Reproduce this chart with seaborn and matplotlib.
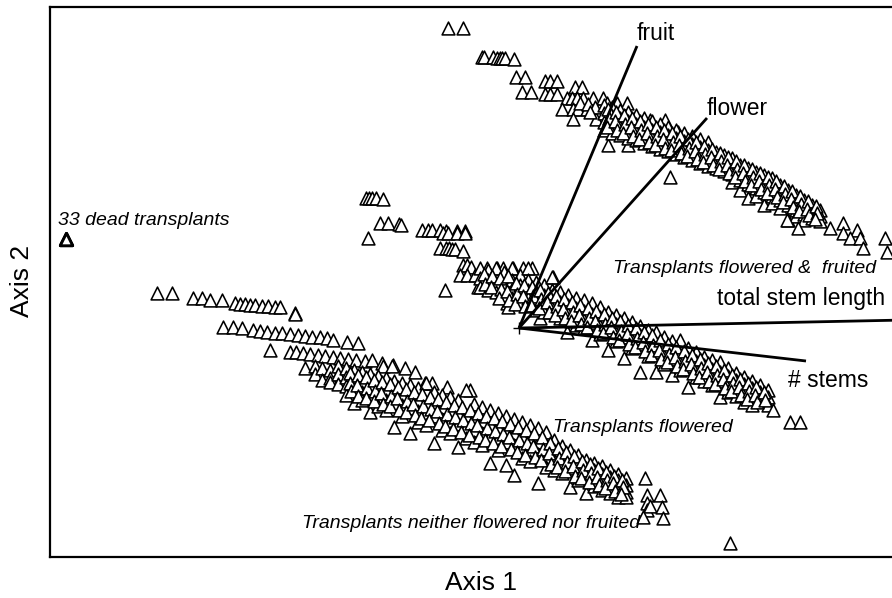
import matplotlib
matplotlib.use("Agg")
import matplotlib.pyplot as plt
import seaborn as sns
import pandas as pd

# ---- Ordination scores (axis units = screen-scaled scores) ----
dead_pts = [(66, 239), (66, 239), (66, 239)]

neither_pts = [
    (157, 293), (172, 293), (193, 298), (202, 298), (210, 300), (222, 300), (235, 303), (240, 304),
    (245, 304), (250, 305), (255, 305), (262, 306), (268, 306), (275, 307), (280, 307), (295, 313), (295, 314),
    (223, 327), (233, 327), (242, 328), (253, 330), (260, 331), (267, 332), (275, 333), (282, 333),
    (290, 334), (298, 335), (305, 336), (312, 337), (320, 337), (327, 338), (333, 340), (347, 342), (358, 343),
    (270, 350), (290, 352), (296, 352), (303, 353), (310, 354), (318, 355), (325, 356), (333, 357),
    (340, 358), (348, 359), (356, 360), (365, 361), (372, 360), (382, 363), (393, 365),
    (383, 366), (392, 366), (405, 368), (415, 372), (425, 383), (432, 383), (447, 387), (470, 390),
    (305, 368), (315, 366), (315, 374), (322, 368), (322, 380), (330, 370), (330, 378), (330, 382),
    (338, 366), (338, 374), (338, 384), (346, 368), (346, 377), (346, 386), (346, 395),
    (354, 370), (354, 380), (354, 389), (354, 403), (362, 372), (362, 382), (362, 392), (362, 400),
    (370, 374), (370, 385), (370, 395), (370, 412), (378, 376), (378, 387), (378, 398), (378, 406),
    (386, 378), (386, 390), (386, 400), (386, 410), (394, 381), (394, 392), (394, 403), (394, 427),
    (402, 383), (402, 395), (402, 405), (402, 416), (410, 385), (410, 397), (410, 408), (410, 433),
    (418, 388), (418, 400), (418, 411), (418, 422), (426, 383), (426, 402), (426, 413), (426, 425),
    (434, 392), (434, 405), (434, 416), (434, 443), (442, 395), (442, 407), (442, 419), (442, 430),
    (450, 397), (450, 410), (450, 422), (450, 433), (458, 400), (458, 413), (458, 424), (458, 447),
    (466, 390), (466, 415), (466, 427), (466, 438), (474, 404), (474, 418), (474, 430), (474, 442),
    (482, 407), (482, 421), (482, 433), (482, 445), (490, 410), (490, 424), (490, 436), (490, 463),
    (498, 413), (498, 427), (498, 439), (498, 450), (506, 416), (506, 430), (506, 442), (506, 465),
    (514, 419), (514, 433), (514, 445), (514, 475), (522, 422), (522, 436), (522, 448), (522, 458),
    (530, 425), (530, 439), (530, 451), (530, 461), (538, 428), (538, 442), (538, 454), (538, 483),
    (546, 432), (546, 445), (546, 457), (546, 467), (554, 440), (554, 450), (554, 460), (554, 470),
    (562, 446), (562, 455), (562, 463), (562, 473), (570, 450), (570, 460), (570, 468), (570, 487),
    (578, 455), (578, 464), (578, 472), (578, 480), (586, 460), (586, 468), (586, 476), (586, 493),
    (594, 463), (594, 470), (594, 478), (594, 486), (602, 466), (602, 474), (602, 482), (602, 490),
    (610, 470), (610, 477), (610, 485), (610, 493), (618, 474), (618, 480), (618, 488), (618, 497),
    (626, 478), (626, 485), (626, 492), (626, 497),
    (645, 478), (647, 495), (660, 495), (647, 503), (647, 510), (650, 506), (662, 507), (663, 518),
    (643, 517), (730, 543),
    # second, offset layer of the dense core
    (350, 373), (350, 383), (351, 391), (358, 375), (357, 385), (358, 396), (366, 377), (367, 388),
    (366, 398), (374, 380), (375, 391), (374, 401), (382, 382), (381, 393), (383, 404), (390, 384),
    (391, 396), (390, 406), (398, 387), (397, 398), (399, 410), (406, 389), (407, 401), (406, 412),
    (414, 392), (413, 404), (415, 415), (422, 394), (423, 406), (421, 418), (430, 397), (431, 409),
    (429, 420), (438, 399), (437, 411), (439, 423), (446, 402), (447, 414), (445, 426), (454, 405),
    (455, 417), (453, 429), (462, 407), (463, 420), (461, 432), (470, 410), (471, 423), (469, 435),
    (478, 413), (477, 425), (479, 437), (486, 416), (487, 428), (485, 440), (494, 418), (495, 431),
    (493, 443), (502, 421), (503, 434), (501, 446), (510, 424), (509, 437), (511, 449), (518, 427),
    (519, 440), (517, 452), (526, 430), (527, 443), (525, 455), (534, 433), (533, 446), (535, 457),
    (542, 437), (543, 449), (541, 460), (550, 443), (549, 453), (551, 464), (558, 448), (559, 458),
    (557, 467), (566, 452), (567, 462), (565, 471), (574, 456), (573, 466), (575, 476), (582, 461),
    (583, 470), (581, 478), (590, 464), (591, 473), (589, 482), (598, 468), (597, 477), (599, 485),
    (606, 472), (607, 480), (605, 488), (614, 476), (613, 483), (615, 491), (622, 480), (623, 487),
    (621, 494),
]

flowered_pts = [
    (366, 198), (369, 198), (372, 198), (376, 198), (383, 199), (380, 223), (388, 223), (399, 224),
    (401, 225), (368, 238), (422, 230), (428, 230), (432, 230), (440, 230), (446, 231), (457, 231),
    (465, 231), (443, 233), (448, 233), (457, 233), (465, 233), (440, 248), (446, 248), (449, 248),
    (452, 249), (455, 249), (463, 251), (463, 265), (467, 265), (471, 267), (460, 275), (467, 275),
    (475, 275), (445, 290), (478, 287), (487, 268), (497, 268), (503, 268), (513, 268), (523, 268),
    (532, 268), (553, 277), (507, 303), (508, 307), (540, 318), (567, 332),
    (480, 268), (480, 278), (480, 287), (488, 270), (488, 280), (488, 290), (496, 268), (496, 283),
    (496, 292), (504, 272), (504, 285), (504, 295), (512, 268), (512, 280), (512, 289), (512, 298),
    (520, 275), (520, 285), (520, 293), (520, 302), (528, 268), (528, 280), (528, 290), (528, 298),
    (536, 282), (536, 292), (536, 300), (536, 310), (544, 285), (544, 295), (544, 304), (544, 312),
    (552, 277), (552, 290), (552, 300), (552, 308), (560, 292), (560, 302), (560, 311), (560, 318),
    (568, 295), (568, 305), (568, 314), (576, 298), (576, 308), (576, 317), (576, 325),
    (584, 300), (584, 311), (584, 320), (584, 328), (592, 303), (592, 314), (592, 323), (592, 340),
    (600, 307), (600, 317), (600, 326), (600, 334), (608, 312), (608, 321), (608, 330), (608, 350),
    (616, 315), (616, 324), (616, 333), (616, 341), (624, 318), (624, 328), (624, 337), (624, 358),
    (632, 322), (632, 331), (632, 340), (632, 348), (640, 326), (640, 335), (640, 344), (640, 372),
    (648, 330), (648, 339), (648, 348), (648, 356), (656, 332), (656, 343), (656, 352), (656, 372),
    (664, 337), (664, 347), (664, 356), (664, 364), (672, 341), (672, 350), (672, 359), (672, 375),
    (680, 340), (680, 354), (680, 363), (680, 370), (688, 348), (688, 358), (688, 366), (688, 387),
    (696, 352), (696, 361), (696, 370), (696, 377), (704, 357), (704, 365), (704, 374), (704, 381),
    (712, 360), (712, 369), (712, 378), (712, 385), (720, 362), (720, 372), (720, 381), (720, 397),
    (728, 368), (728, 376), (728, 385), (728, 392), (736, 373), (736, 380), (736, 388), (736, 396),
    (744, 377), (744, 384), (744, 392), (744, 402), (752, 381), (752, 388), (752, 395), (752, 405),
    (760, 385), (760, 392), (760, 399), (768, 390), (768, 397), (768, 405),
    (773, 410), (790, 422), (800, 422),
    # offset layer
    (484, 274), (485, 284), (492, 276), (491, 287), (500, 278), (501, 289), (499, 298), (508, 276),
    (507, 291), (509, 300), (516, 283), (517, 294), (515, 304), (524, 285), (523, 296), (525, 306),
    (532, 287), (533, 296), (531, 305), (540, 290), (541, 299), (539, 308), (548, 293), (547, 302),
    (549, 312), (556, 296), (557, 306), (555, 315), (564, 299), (563, 309), (565, 318), (572, 302),
    (573, 312), (571, 321), (580, 305), (579, 315), (581, 324), (588, 308), (589, 318), (587, 327),
    (596, 311), (595, 321), (597, 330), (604, 314), (605, 324), (603, 333), (612, 318), (611, 327),
    (613, 337), (620, 321), (621, 331), (619, 340), (628, 325), (627, 334), (629, 344), (636, 328),
    (637, 338), (635, 347), (644, 332), (643, 342), (645, 351), (652, 335), (653, 345), (651, 355),
    (660, 340), (659, 350), (661, 359), (668, 344), (669, 354), (667, 362), (676, 347), (675, 357),
    (677, 366), (684, 351), (685, 361), (683, 369), (692, 355), (691, 364), (693, 373), (700, 359),
    (701, 368), (699, 377), (708, 363), (707, 372), (709, 381), (716, 366), (717, 375), (715, 384),
    (724, 370), (723, 379), (725, 388), (732, 375), (733, 383), (731, 391), (740, 379), (739, 387),
    (741, 395), (748, 383), (749, 391), (747, 399), (756, 387), (755, 395), (757, 402), (764, 392),
    (765, 400),
]

fruited_pts = [
    (448, 28), (463, 28), (482, 57), (484, 57), (493, 57), (497, 58), (500, 58), (502, 58), (505, 58),
    (514, 59), (516, 77), (525, 77), (522, 92), (531, 92), (545, 81), (550, 81), (557, 81), (575, 87),
    (582, 87), (545, 94), (550, 94), (557, 94), (567, 98), (572, 98), (577, 98), (583, 98), (593, 98),
    (603, 98), (562, 109), (573, 109), (578, 109), (587, 109), (573, 119), (596, 119), (607, 103),
    (617, 103), (627, 103), (650, 120), (665, 120), (678, 132), (670, 177), (608, 145), (628, 145),
    (580, 103), (588, 104), (595, 107), (590, 112),
    (604, 105), (604, 113), (604, 122), (604, 130), (612, 107), (612, 116), (612, 124), (612, 133),
    (620, 110), (620, 118), (620, 127), (620, 135), (628, 112), (628, 121), (628, 130), (628, 138),
    (636, 115), (636, 124), (636, 132), (636, 140), (644, 118), (644, 127), (644, 135), (644, 143),
    (652, 121), (652, 130), (652, 138), (652, 146), (660, 124), (660, 132), (660, 141), (660, 149),
    (668, 127), (668, 135), (668, 143), (668, 151), (676, 130), (676, 138), (676, 146), (676, 154),
    (684, 133), (684, 141), (684, 149), (684, 157), (692, 136), (692, 144), (692, 152), (692, 160),
    (700, 139), (700, 147), (700, 155), (700, 163), (708, 142), (708, 150), (708, 158), (708, 166),
    (716, 152), (716, 160), (716, 168), (724, 155), (724, 163), (724, 171),
    (732, 158), (732, 166), (732, 174), (732, 182), (740, 165), (740, 172), (740, 180), (740, 190),
    (748, 168), (748, 176), (748, 184), (748, 198), (756, 172), (756, 180), (756, 188), (756, 196),
    (764, 175), (764, 184), (764, 192), (764, 205), (772, 178), (772, 188), (772, 196), (772, 203),
    (780, 185), (780, 193), (780, 200), (780, 208), (788, 190), (788, 198), (788, 205), (788, 220),
    (796, 195), (796, 202), (796, 210), (796, 216), (804, 200), (804, 207), (804, 214), (804, 220),
    (812, 205), (812, 212), (812, 218), (820, 210), (820, 216), (820, 221),
    (830, 228), (843, 223), (843, 233), (857, 230), (850, 238), (860, 238), (863, 248), (885, 238),
    (887, 252), (798, 228), (787, 220),
    # offset layer
    (608, 109), (609, 118), (607, 127), (616, 112), (615, 121), (617, 130), (624, 115), (625, 124),
    (623, 133), (632, 118), (631, 127), (633, 136), (640, 121), (641, 130), (639, 139), (648, 124),
    (647, 133), (649, 142), (656, 127), (657, 136), (655, 145), (664, 130), (663, 139), (665, 148),
    (672, 133), (673, 142), (671, 150), (680, 136), (679, 145), (681, 153), (688, 139), (689, 148),
    (687, 156), (696, 142), (695, 151), (697, 159), (704, 146), (705, 154), (703, 162), (712, 149),
    (711, 157), (713, 165), (720, 153), (721, 161), (719, 169), (728, 157), (727, 165), (729, 173),
    (736, 161), (737, 169), (735, 177), (744, 165), (743, 173), (745, 181), (752, 169), (753, 177),
    (751, 185), (760, 173), (759, 181), (761, 189), (768, 177), (769, 185), (767, 193), (776, 181),
    (775, 189), (777, 197), (784, 186), (785, 194), (783, 202), (792, 191), (791, 199), (793, 207),
    (800, 196), (801, 204), (799, 211), (808, 201), (807, 209), (809, 215), (816, 206), (817, 213),
    (815, 219),
]

# biplot vectors (origin and tips) and labels
vector_origin = (519, 328)
vector_names = ["fruit", "flower", "total stem length", "# stems"]
vector_tips = [(637, 46), (707, 118), (905, 320), (806, 361)]

group_notes = ["33 dead transplants", "Transplants flowered &  fruited",
               "Transplants flowered", "Transplants neither flowered nor fruited"]

# ---- build dataframe ----
rows = []
for name, pts in [("dead", dead_pts), ("neither", neither_pts),
                  ("flowered", flowered_pts), ("fruited", fruited_pts)]:
    for (a1, a2) in pts:
        rows.append({"Axis 1": a1, "Axis 2": a2, "group": name})
df = pd.DataFrame(rows)

sns.set_style("white")
plt.rcParams["font.family"] = ["Liberation Sans", "DejaVu Sans"]
plt.rcParams["text.color"] = "black"

W, H = 892, 598
fig = plt.figure(figsize=(W / 100, H / 100), dpi=100)
left, right, top, bottom = 50, 905, 7, 557
ax = fig.add_axes([left / W, 1 - bottom / H, (right - left) / W, (bottom - top) / H])

sns.scatterplot(data=df[df.group != "dead"], x="Axis 1", y="Axis 2", marker="^",
                s=85, facecolor="white", edgecolor="black", linewidth=1.15, ax=ax, legend=False)
sns.scatterplot(data=df[df.group == "dead"], x="Axis 1", y="Axis 2", marker="^",
                s=80, facecolor="white", edgecolor="black", linewidth=2.0, ax=ax, legend=False)

ox, oy = vector_origin
for (tx, ty) in vector_tips:
    ax.plot([ox, tx], [oy, ty], color="black", lw=2.0, solid_capstyle="butt", zorder=5)
ax.plot([ox], [oy], marker="+", color="black", ms=8, mew=1, zorder=6)

ax.set_xlim(left, right)
ax.set_ylim(bottom, top)
ax.set_xticks([])
ax.set_yticks([])
ax.set_xlabel("")
ax.set_ylabel("")
for side in ["left", "top", "bottom"]:
    ax.spines[side].set_color("black")
    ax.spines[side].set_linewidth(1.6)
ax.spines["right"].set_visible(False)

lab_pos = [(637, 40), (707, 115), (717, 305), (788, 387)]
for name, (lx, ly) in zip(vector_names, lab_pos):
    ax.text(lx, ly, name, fontsize=16.5, color="black", ha="left", va="baseline", zorder=7)

note_pos = [(58, 225), (613, 273), (553, 432), (302, 528)]
for note, (nx, ny) in zip(group_notes, note_pos):
    ax.text(nx, ny, note, fontsize=14, style="italic", color="black",
            ha="left", va="baseline", zorder=7)

ax.text(481, 583, "Axis 1", fontsize=19, color="black", ha="center", va="center", clip_on=False)
ax.text(22, 281, "Axis 2", fontsize=19, color="black", ha="center", va="center",
        rotation=90, clip_on=False)

fig.savefig("out.png", dpi=100)
